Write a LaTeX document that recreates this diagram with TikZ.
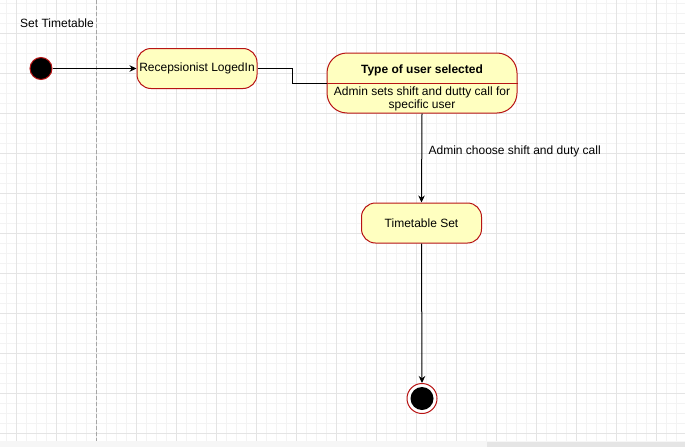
\documentclass[tikz,border=0pt]{standalone}
\usepackage{fontspec}
\setmainfont{Liberation Sans}
\usetikzlibrary{arrows.meta,positioning}
\definecolor{statefill}{HTML}{FFFFC0}
\definecolor{stateline}{HTML}{B81414}
\definecolor{gridmajor}{HTML}{E4E4E4}
\definecolor{gridminor}{HTML}{F3F3F3}
\tikzset{
  state/.style={rectangle,rounded corners=14pt,draw=stateline,fill=statefill,
    minimum width=120pt,minimum height=40pt,inner sep=2pt,
    font=\fontsize{12}{13}\selectfont},
  flow/.style={-{Stealth[length=7pt,width=6.5pt]}},
  lbl/.style={font=\fontsize{12}{13}\selectfont},
}
\begin{document}
\begin{tikzpicture}[x=1pt,y=-1pt,line width=1pt]
\useasboundingbox (0,0) rectangle (685,447);
\fill[white] (0,0) rectangle (685,447);
% grid
\foreach \x in {6,16,...,685} \draw[gridminor,line width=0.6pt] (\x,0) -- (\x,441);
\foreach \y in {3,13,...,441} \draw[gridminor,line width=0.6pt] (0,\y) -- (685,\y);
\foreach \x in {16,56,...,685} \draw[gridmajor,line width=0.8pt] (\x,0) -- (\x,441);
\foreach \y in {33,73,...,441} \draw[gridmajor,line width=0.8pt] (0,\y) -- (685,\y);
\fill[gray!7] (0,441) rectangle (685,447);
\fill[gray!20] (487,442) rectangle (685,447);
% swimlane
\draw[gray!70,line width=0.7pt,dash pattern=on 4pt off 2pt] (96,0) -- (96,441);
\node[lbl] (lane) at (57,23) {Set Timetable};
% states
\node[circle,fill=black,draw=stateline,minimum size=22pt,inner sep=0pt] (start) at (41,68.5) {};
\node[state] (logged) at (197,68.5) {Recepsionist LogedIn};
\node[state,rounded corners=20pt,minimum width=190pt,minimum height=60pt] (usertype) at (422,83) {};
\draw[stateline] (usertype.west) -- (usertype.east);
\node[lbl,font=\fontsize{12}{13}\selectfont\bfseries] (typetitle) at (422,70) {Type of user selected};
\node[lbl,align=center] (typebody) at (422,98.5) {Admin sets shift and dutty call for\\specific user};
\node[state] (ttset) at (421.5,223) {Timetable Set};
\node[circle,draw=stateline,fill=white,minimum size=30pt,inner sep=0pt] (final) at (422,398.5) {};
\node[circle,fill=black,minimum size=23pt,inner sep=0pt] (finaldot) at (final) {};
% transitions
\draw[flow] (start) -- (logged.west);
\draw (logged.east) -- ++(34.5,0) |- (usertype.west);
\draw[flow] (usertype.south) -- node[lbl,pos=0.43,anchor=west,xshift=3pt] {Admin choose shift and duty call} (ttset.north);
\draw[flow] (ttset.south) -- (final.north);
\end{tikzpicture}
\end{document}
